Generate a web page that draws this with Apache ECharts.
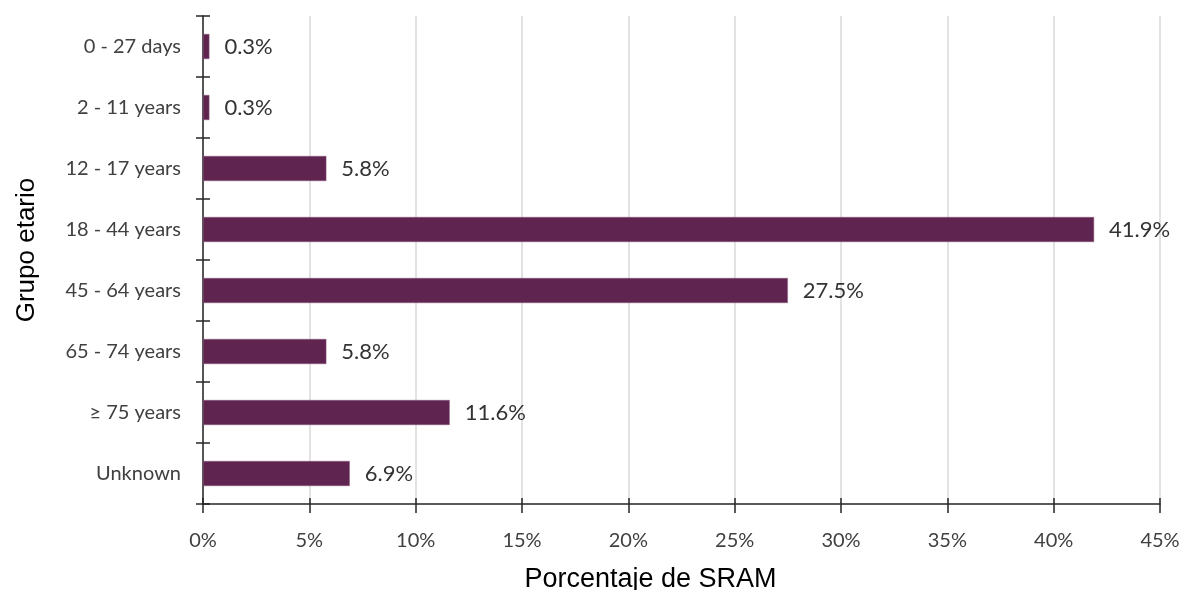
<!DOCTYPE html>
<html>
<head>
<meta charset="utf-8">
<script src="https://cdn.jsdelivr.net/npm/echarts@6/dist/echarts.min.js"></script>
<style>
html, body { margin: 0; padding: 0; background: #fff; }
#chart { width: 1187px; height: 590px; }
</style>
</head>
<body>
<div id="chart"></div>
<script>
var categories = ['0 - 27 days', '2 - 11 years', '12 - 17 years', '18 - 44 years', '45 - 64 years', '65 - 74 years', '\u2265 75 years', 'Unknown'];
var values = [0.3, 0.3, 5.8, 41.9, 27.5, 5.8, 11.6, 6.9];
var xTicks = [0, 5, 10, 15, 20, 25, 30, 35, 40, 45];

var labelFont = 'Lato, "Open Sans", sans-serif';
var axisColor = '#262626';

var myChart = echarts.init(document.getElementById('chart'));
var option = {
	animation: false,
	grid: {
		left: 203,
		right: 27,
		top: 16,
		bottom: 86,
		outerBoundsMode: 'none',
		containLabel: false
	},
	xAxis: [
		{
			type: 'value',
			min: xTicks[0],
			max: xTicks[xTicks.length - 1],
			interval: 5,
			name: 'Porcentaje de SRAM',
			nameLocation: 'middle',
			nameGap: 62,
			nameTextStyle: {
				fontFamily: '"Liberation Sans", Arial, sans-serif',
				fontSize: 27,
				color: '#000',
				padding: [0, 62, 0, 0] // title sits left of the axis centre
			},
			axisLine: { show: true, lineStyle: { color: axisColor, width: 1.5 } },
			axisTick: { show: true, length: 9, lineStyle: { color: axisColor, width: 1.5 } },
			axisLabel: {
				formatter: '{value}%',
				fontFamily: labelFont,
				fontSize: 20,
				color: '#404040',
				margin: 27
			},
			splitLine: { show: true, lineStyle: { color: '#d9d9d9', width: 1.5 } }
		},
		{
			// inner half of the crossing ticks
			type: 'value',
			position: 'bottom',
			min: xTicks[0],
			max: xTicks[xTicks.length - 1],
			interval: 5,
			axisLine: { show: false },
			axisTick: { show: true, inside: true, length: 6, lineStyle: { color: axisColor, width: 1.5 } },
			axisLabel: { show: false },
			splitLine: { show: false }
		}
	],
	yAxis: [
		{
			type: 'category',
			data: categories,
			inverse: true,
			name: 'Grupo etario',
			nameLocation: 'middle',
			nameGap: 163,
			nameRotate: 90,
			nameTextStyle: {
				fontFamily: '"Liberation Sans", Arial, sans-serif',
				fontSize: 26,
				color: '#000',
				padding: [0, 0, 0, 20]
			},
			axisLine: { show: true, lineStyle: { color: axisColor, width: 1.5 } },
			axisTick: { show: true, length: 7, lineStyle: { color: axisColor, width: 1.5 } },
			axisLabel: {
				fontFamily: labelFont,
				fontSize: 20,
				color: '#404040',
				margin: 22
			}
		},
		{
			type: 'category',
			data: categories,
			inverse: true,
			position: 'left',
			axisLine: { show: false },
			axisTick: { show: true, inside: true, length: 7, lineStyle: { color: axisColor, width: 1.5 } },
			axisLabel: { show: false }
		}
	],
	series: [
		{
			name: 'SRAM',
			type: 'bar',
			data: values,
			barWidth: 25,
			itemStyle: {
				color: '#5f2450',
				borderColor: '#8a5a7c',
				borderWidth: 0.5
			},
			label: {
				show: true,
				position: 'right',
				distance: 15,
				formatter: function(p) { return p.value.toFixed(1) + '%'; },
				fontFamily: labelFont,
				fontSize: 22,
				color: '#333'
			}
		}
	]
};
myChart.setOption(option);
</script>
</body>
</html>
